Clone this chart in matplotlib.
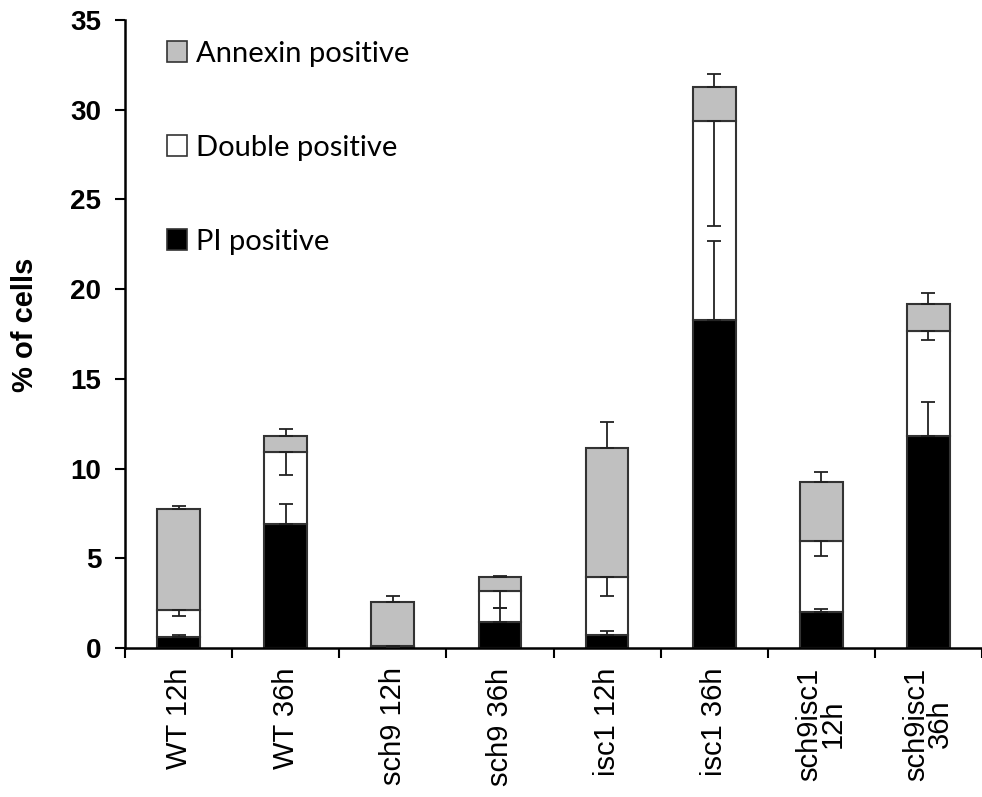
import numpy as np
import matplotlib.pyplot as plt
from matplotlib.patches import Patch

# values (% of cells)
categories = ["WT 12h", "WT 36h", "sch9 12h", "sch9 36h", "isc1 12h", "isc1 36h",
              "sch9isc1\n12h", "sch9isc1\n36h"]
pi_pos = [0.63, 6.93, 0.05, 1.46, 0.72, 18.28, 1.98, 11.80]
double_pos = [1.48, 3.97, 0.05, 1.72, 3.21, 11.10, 4.00, 5.87]
annexin_pos = [5.61, 0.93, 2.47, 0.75, 7.22, 1.87, 3.29, 1.50]

pi_err = [0.10, 1.10, 0.00, 0.78, 0.24, 4.40, 0.22, 1.91]       # drawn upward
double_err = [0.30, 1.25, 0.00, 0.94, 1.04, 5.86, 0.84, 0.53]   # drawn downward
annexin_err = [0.17, 0.37, 0.33, 0.07, 1.46, 0.73, 0.53, 0.59]  # drawn upward

x = np.arange(len(categories))
pi_arr = np.array(pi_pos)
dbl_arr = np.array(double_pos)
ann_arr = np.array(annexin_pos)

fig = plt.figure(figsize=(9.82, 7.97), dpi=100)
ax = fig.add_axes([125 / 982, 1 - 648 / 797, 857 / 982, 628 / 797])

w = 0.4
kw = dict(width=w, edgecolor="#333333", linewidth=1.5, zorder=2)
ax.bar(x, pi_arr, color="black", **kw)
ax.bar(x, dbl_arr, bottom=pi_arr, color="white", **kw)
ax.bar(x, ann_arr, bottom=pi_arr + dbl_arr, color="#c0c0c0", **kw)

ekw = dict(fmt="none", ecolor="#222222", elinewidth=1.3, capsize=5, capthick=1.3, zorder=3)
ax.errorbar(x, pi_arr, yerr=[np.zeros(len(x)), pi_err], **ekw)
ax.errorbar(x, pi_arr + dbl_arr, yerr=[double_err, np.zeros(len(x))], **ekw)
ax.errorbar(x, pi_arr + dbl_arr + ann_arr, yerr=[np.zeros(len(x)), annexin_err], **ekw)

ax.set_xlim(-0.5, 7.4)
ax.set_ylim(0, 35)
ax.set_yticks(np.arange(0, 36, 5))
ax.set_yticklabels([str(v) for v in range(0, 36, 5)], fontsize=20, fontweight="bold",
                   family="Liberation Sans")

ax.set_xticks(x)
ax.set_xticklabels(categories, rotation=90, fontsize=21, family="Liberation Sans",
                   linespacing=0.8)
ax.set_xticks(np.arange(-0.5, 8, 1), minor=True)
ax.tick_params(axis="x", which="major", length=0, pad=14)
ax.tick_params(axis="x", which="minor", length=7, width=1.5, direction="out")
ax.tick_params(axis="y", length=7, width=1.5, direction="out", pad=10)

for side in ["top", "right"]:
    ax.spines[side].set_visible(False)
for side in ["left", "bottom"]:
    ax.spines[side].set_linewidth(1.8)

ax.set_ylabel("% of cells", fontsize=21, fontweight="bold", family="Liberation Sans")
ax.yaxis.set_label_coords(-0.1, 0.515)

handles = [Patch(facecolor="#c0c0c0", edgecolor="#333333", linewidth=1.2, label="Annexin positive"),
           Patch(facecolor="white", edgecolor="#333333", linewidth=1.2, label="Double positive"),
           Patch(facecolor="black", edgecolor="#333333", linewidth=1.2, label="PI positive")]
ax.legend(handles=handles, loc="upper left", bbox_to_anchor=(0.049, 0.967), frameon=False,
          prop={"family": "Lato", "size": 21}, handlelength=0.7, handleheight=0.7,
          handletextpad=0.3, labelspacing=2.33, borderaxespad=0, borderpad=0)

fig.savefig("out.png", dpi=100)
